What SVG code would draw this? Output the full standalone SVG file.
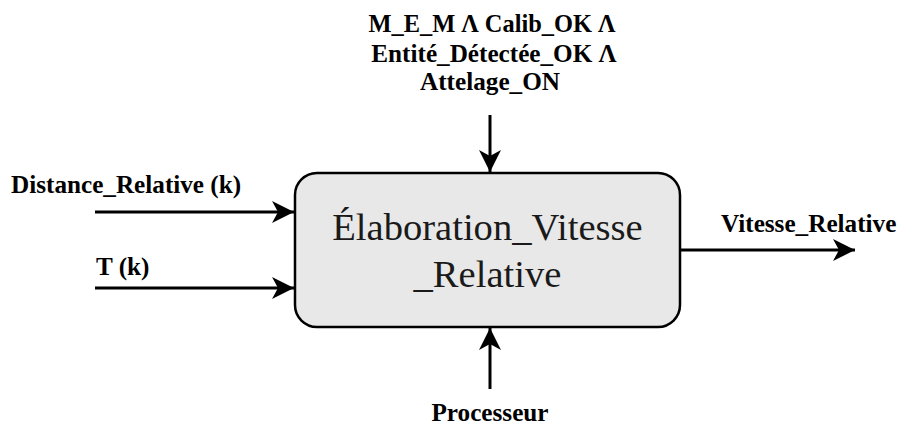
<svg xmlns="http://www.w3.org/2000/svg" width="900" height="425" viewBox="0 0 900 425">
<defs>
<marker id="ah" markerUnits="userSpaceOnUse" markerWidth="24" markerHeight="24" viewBox="-23 -12 24 24" refX="0" refY="0" orient="auto">
<path d="M0,0 L-22,-11 L-16,0 L-22,11 Z" fill="#000"/>
</marker>
</defs>
<rect width="900" height="425" fill="#fff"/>
<g id="connectors" stroke="#000" stroke-width="3" fill="none" marker-end="url(#ah)">
<line x1="490" y1="115" x2="490" y2="172"/>
<line x1="95" y1="212" x2="294" y2="212"/>
<line x1="95" y1="288" x2="294" y2="288"/>
<line x1="680" y1="250" x2="855" y2="250"/>
<line x1="490" y1="389" x2="490" y2="328"/>
</g>
<g id="node-elaboration">
<rect x="295" y="173" width="385" height="154" rx="22" ry="22" fill="#e8e8e8" stroke="#000" stroke-width="2.5"/>
<g font-family="Liberation Serif" font-size="38.6" fill="#1a1a1a" text-anchor="middle">
<text x="487.5" y="240">Élaboration_Vitesse</text>
<text x="487.5" y="287">_Relative</text>
</g>
</g>
<g font-family="Liberation Serif" font-weight="bold" font-size="25.2" fill="#000">
<g id="label-conditions" text-anchor="middle">
<text x="492" y="32" font-size="24.4">M_E_M Λ Calib_OK Λ</text>
<text x="494" y="62">Entité_Détectée_OK Λ</text>
<text x="490" y="90">Attelage_ON</text>
</g>
<g id="label-distance">
<text x="11" y="193">Distance_Relative (k)</text>
</g>
<g id="label-t">
<text x="96" y="275">T (k)</text>
</g>
<g id="label-vitesse">
<text x="721" y="232">Vitesse_Relative</text>
</g>
<g id="label-processeur">
<text x="490" y="421" text-anchor="middle">Processeur</text>
</g>
</g>
</svg>
